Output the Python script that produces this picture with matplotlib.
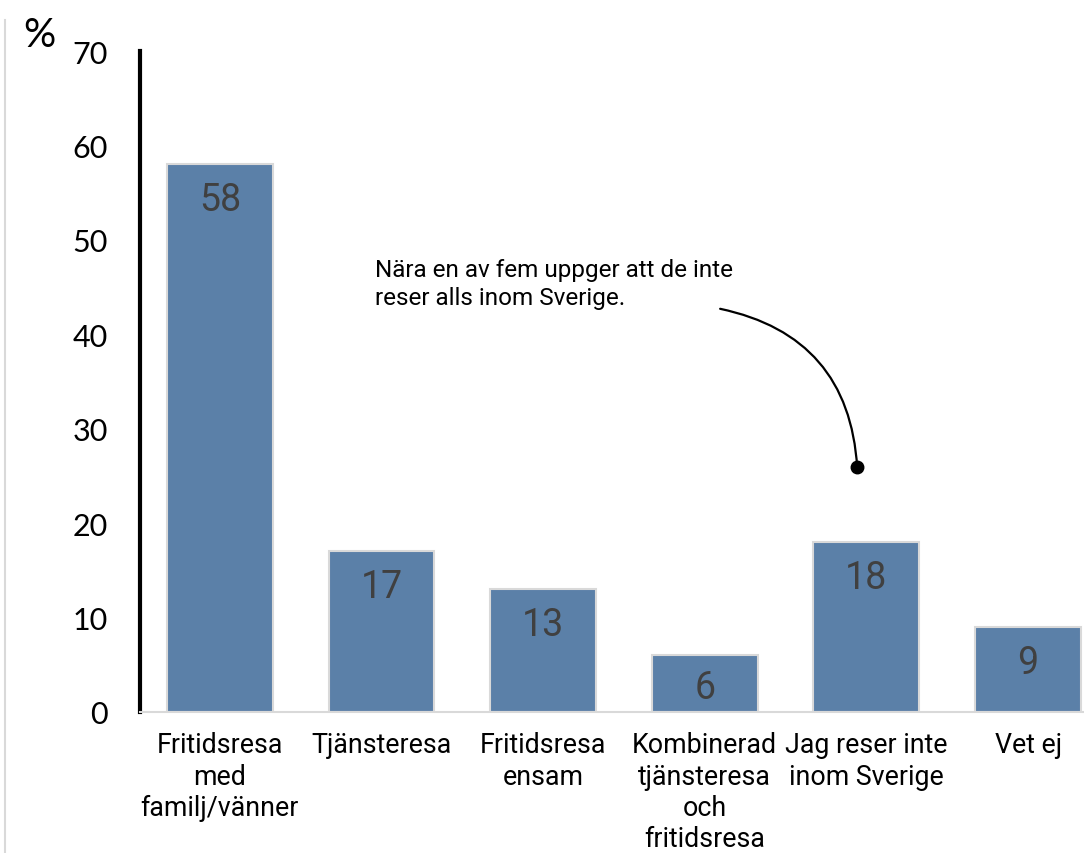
import numpy as np
import matplotlib.pyplot as plt
from matplotlib.lines import Line2D

categories = ['Fritidsresa\nmed\nfamilj/vänner', 'Tjänsteresa', 'Fritidsresa\nensam',
              'Kombinerad\ntjänsteresa\noch\nfritidsresa', 'Jag reser inte\ninom Sverige', 'Vet ej']
values = [58, 17, 13, 6, 18, 9]
yticks = [0, 10, 20, 30, 40, 50, 60, 70]
note = 'Nära en av fem uppger att de inte\nreser alls inom Sverige.'

bar_color = '#5b80a8'
W, H = 1084, 854

fig = plt.figure(figsize=(W / 100, H / 100), dpi=100)
ax = fig.add_axes([140 / W, (H - 713) / H, (W - 140) / W, 661 / H])

x = np.arange(len(values))
ax.bar(x, values, width=0.655, color=bar_color, edgecolor='#d9d9d9', linewidth=1.5, zorder=2)
ax.set_xlim(-0.494, 5.346)
ax.set_ylim(0, 70)

# value labels inside bars, near the top
for xi, v in zip(x, values):
    top_px = ax.transData.transform((xi, v))[1]
    base_px = ax.transData.transform((xi, 0))[1]
    off = min(35, (top_px - base_px) / 2 + 4)
    ax.annotate(str(v), (xi, v), xytext=(0, -off * 72 / 100), textcoords='offset points',
                ha='center', va='center', fontsize=27, color='#404040', family='Roboto')

ax.set_yticks(yticks)
ax.set_yticklabels([str(t) for t in yticks], fontsize=22, family='Lato')
ax.tick_params(axis='y', length=0, pad=23)
ax.set_xticks(x)
ax.set_xticklabels(categories, fontsize=19.3, family='Roboto', linespacing=1.2)
ax.tick_params(axis='x', length=0, pad=14)

for s in ['top', 'right']:
    ax.spines[s].set_visible(False)
ax.spines['left'].set_linewidth(3)
ax.spines['left'].set_color('black')
ax.spines['bottom'].set_color('#d9d9d9')
ax.spines['bottom'].set_linewidth(1.5)

# annotation with curved connector and dot
dot = (3.943, 25.9)
start = (3.095, 42.7)
ax.annotate('', xy=dot, xytext=start,
            arrowprops=dict(arrowstyle='-', color='black', lw=1.6, shrinkA=0, shrinkB=0,
                            connectionstyle='arc3,rad=-0.38'))
ax.plot([dot[0]], [dot[1]], 'o', color='black', markersize=9, zorder=5)
fig.text(375 / W, 1 - 259 / H, note, fontsize=17.5, family='Roboto', va='top', ha='left',
         linespacing=1.3)

fig.text(23 / W, 1 - 47 / H, '%', fontsize=29, family='Lato', ha='left', va='baseline')
fig.add_artist(Line2D([5 / W, 5 / W], [0, 1 - 21 / H], color='#d9d9d9', lw=1.5))

fig.savefig('out.png', dpi=100)
